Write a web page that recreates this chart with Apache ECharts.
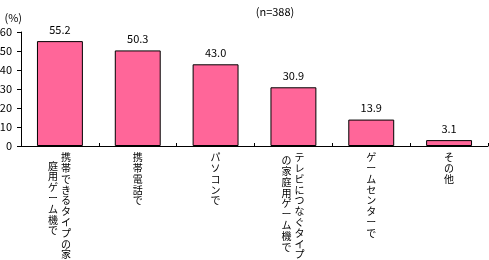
<!DOCTYPE html>
<html><head><meta charset="utf-8">
<script src="https://cdn.jsdelivr.net/npm/echarts@6/dist/echarts.min.js"></script>
<style>html,body{margin:0;padding:0;background:#fff}#c{width:489px;height:260px}</style>
</head><body><div id="c"></div>
<script>
// Categories: first column (right) and second column (left) of vertical labels
const categories = ['携帯できるタイプの家庭用ゲーム機で','携帯電話で','パソコンで','テレビにつなぐタイプの家庭用ゲーム機で','ゲームセンターで','その他'];
const labelCol1 = ['携帯できるタイプの家','携帯電話で','パソコンで','テレビにつなぐタイプ','ゲームセンターで','その他'];
const labelCol2 = ['庭用ゲーム機で','','','の家庭用ゲーム機で','',''];
const values = [55.2, 50.3, 43.0, 30.9, 13.9, 3.1];
const yTicks = [0, 10, 20, 30, 40, 50, 60];
const sampleNote = '(n=388)';
const unitLabel = '(%)';

const FONT = '"Noto Sans CJK JP", sans-serif';
const FS = 10, LH = 10.8;
const vert = s => s.split('').join('\n');
const chart = echarts.init(document.getElementById('c'), null, {renderer:'canvas'});
chart.setOption({
  animation:false,
  backgroundColor:'#fff',
  title:{text:sampleNote, left:270, top:1, textAlign:'center',
    textStyle:{fontSize:11, fontWeight:'normal', color:'#000', fontFamily:FONT}},
  grid:{left:21, right:1, top:32, bottom:114, containLabel:false, outerBoundsMode:'none'},
  xAxis:[{
    type:'category', data:categories, position:'bottom',
    axisLine:{lineStyle:{color:'#000', width:1}},
    axisTick:{show:true, alignWithLabel:false, length:3, inside:true, lineStyle:{color:'#000'}},
    axisLabel:{interval:0, margin:6, fontSize:FS, lineHeight:LH, color:'#000', fontFamily:FONT,
      formatter:(v, i) => {
        const t = labelCol1[i];
        return labelCol2[i] ? '{r|' + vert(t) + '}' : vert(t);
      },
      rich:{r:{fontSize:FS, lineHeight:LH, padding:[0,0,0,12], fontFamily:FONT, color:'#000'}}
    }
  },{
    type:'category', data:categories, position:'bottom',
    axisLine:{show:false}, axisTick:{show:false},
    axisLabel:{interval:0, margin:6, fontSize:FS, lineHeight:LH, color:'#000', fontFamily:FONT,
      formatter:(v, i) => {
        const t = labelCol2[i];
        if (!t) return '';
        return (i === 0 ? '{a|' : '{b|') + vert(t) + '}';
      },
      rich:{
        a:{fontSize:FS, lineHeight:LH, padding:[17,14,0,0], fontFamily:FONT, color:'#000'},
        b:{fontSize:FS, lineHeight:LH, padding:[6,14,0,0], fontFamily:FONT, color:'#000'}
      }
    }
  }],
  yAxis:{
    type:'value', min:yTicks[0], max:yTicks[yTicks.length-1], interval:10,
    name:unitLabel, nameLocation:'end', nameGap:9,
    nameTextStyle:{fontSize:11, color:'#000', fontFamily:FONT, align:'right', padding:[0,-1,0,0]},
    axisLine:{show:true, lineStyle:{color:'#000'}},
    axisTick:{show:true, length:4, lineStyle:{color:'#000'}},
    splitLine:{show:false},
    axisLabel:{fontSize:11, color:'#000', fontFamily:FONT, margin:9}
  },
  series:[{
    type:'bar', data:values, barWidth:'59%', xAxisIndex:0,
    itemStyle:{color:'#FF6699', borderColor:'#000', borderWidth:1},
    label:{show:true, position:'top', distance:6, fontSize:11, color:'#000', fontFamily:FONT,
      formatter:p => p.value.toFixed(1)}
  }]
});
</script></body></html>
